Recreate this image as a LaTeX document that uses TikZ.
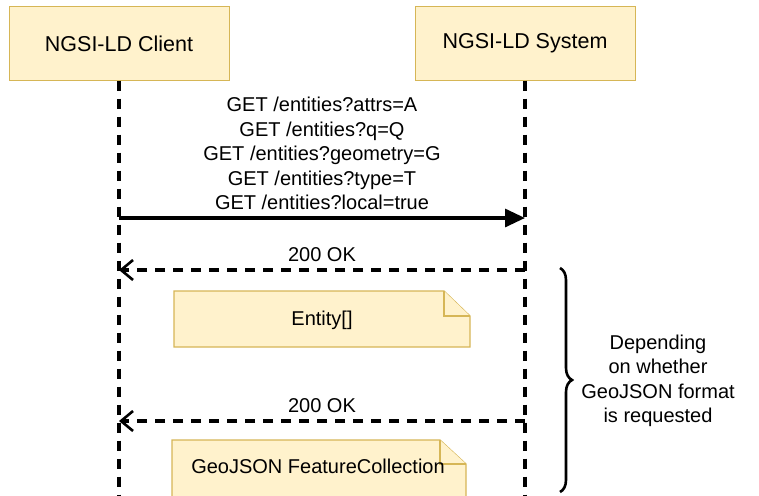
\documentclass[tikz,border=0pt]{standalone}
\usepackage{fontspec}
\setmainfont{Liberation Sans}
\usetikzlibrary{arrows.meta,decorations.pathreplacing}

\definecolor{notefill}{HTML}{FFF2CC}
\definecolor{notedraw}{HTML}{D6B656}

\tikzset{
  actor/.style={draw=notedraw, fill=notefill, line width=1pt,
    minimum width=220pt, minimum height=73pt, inner sep=0pt,
    font=\fontsize{21.5}{24}\selectfont},
  lifeline/.style={line width=3.2pt, dash pattern=on 10pt off 8pt},
  callarrow/.style={line width=3.2pt, -{Triangle[length=20pt,width=18pt]}},
  replyarrow/.style={line width=3.2pt, dash pattern=on 10pt off 8pt,
    -{Straight Barb[length=12pt,width=20pt,line width=2.6pt]}},
  lbl/.style={font=\fontsize{20}{24.5}\selectfont, align=center, inner sep=0pt},
  notebox/.style={draw=notedraw, fill=notefill, line width=1.2pt, line join=miter},
  bracket/.style={line width=2.6pt, decorate,
    decoration={brace, amplitude=12pt}},
}

\begin{document}
\begin{tikzpicture}[x=1pt, y=-1pt]
  \useasboundingbox (0,0) rectangle (759,495);
  \clip (0,0) rectangle (759,495);

  % participants
  \node[actor] (client) at (119,43.5) {NGSI-LD Client};
  \node[actor] (system) at (525,43.5) {NGSI-LD System};

  % lifelines
  \coordinate (cbot) at (client.south |- 0,500);
  \coordinate (sbot) at (system.south |- 0,500);
  \draw[lifeline] (client.south) -- (cbot);
  \draw[lifeline] (system.south) -- (sbot);

  % request
  \coordinate (req1) at (client.south |- 0,218);
  \coordinate (req2) at (system.south |- 0,218);
  \draw[callarrow] (req1) -- (req2);
  \node[lbl, anchor=south] (reqlbl) at (322,210)
    {GET /entities?attrs=A\\GET /entities?q=Q\\GET /entities?geometry=G\\GET /entities?type=T\\GET /entities?local=true};

  % first response
  \coordinate (rep1s) at (system.south |- 0,270);
  \coordinate (rep1c) at (client.south |- 0,270);
  \draw[replyarrow] (rep1s) -- (rep1c);
  \node[lbl] (ok1) at (322,255) {200 OK};

  % Entity[] note
  \draw[notebox] (174,291) -- (444,291) -- (470,316) -- (470,347) -- (174,347) -- cycle;
  \draw[notebox] (444,291) -- (444,316) -- (470,316);
  \node[lbl] (entity) at (322,320) {Entity[]};

  % second response
  \coordinate (rep2s) at (system.south |- 0,421);
  \coordinate (rep2c) at (client.south |- 0,421);
  \draw[replyarrow] (rep2s) -- (rep2c);
  \node[lbl] (ok2) at (322,406) {200 OK};

  % GeoJSON note
  \draw[notebox] (172,440) -- (440,440) -- (466,464) -- (466,510) -- (172,510) -- cycle;
  \draw[notebox] (440,440) -- (440,464) -- (466,464);
  \node[lbl] (geo) at (318,466) {GeoJSON FeatureCollection};

  % bracket and its annotation
  \coordinate (btop) at (560,268);
  \coordinate (bbot) at (560,492);
  \draw[bracket] (btop) -- (bbot);
  \node[lbl] (cond) at (658,381)
    {Depending\\on whether\\GeoJSON format\\is requested};
\end{tikzpicture}
\end{document}
